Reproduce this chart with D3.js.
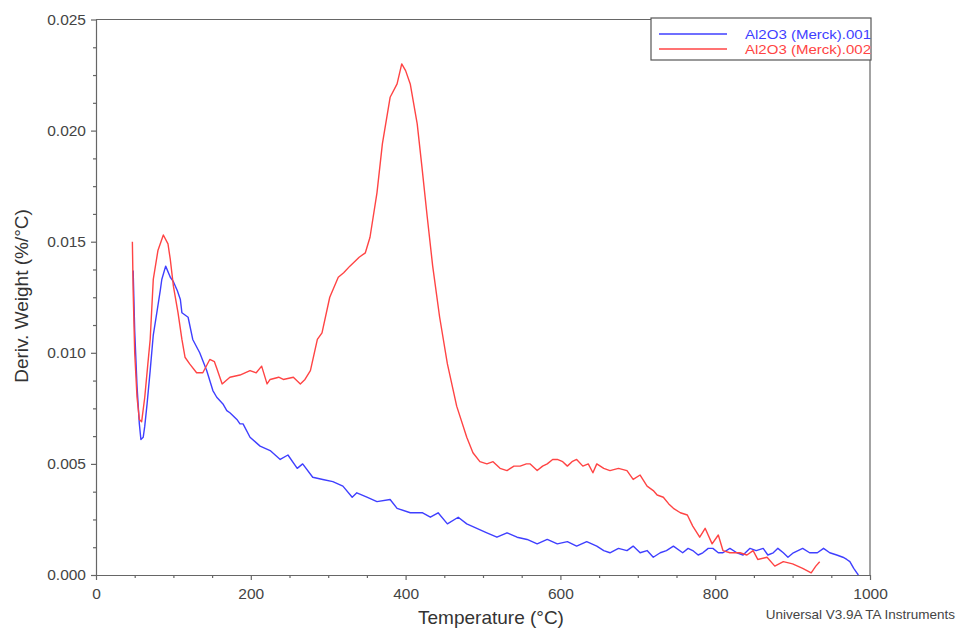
<!DOCTYPE html>
<html>
<head>
<meta charset="utf-8">
<script src="https://cdn.jsdelivr.net/npm/d3@7"></script>
<style>
  body { margin: 0; background: #fff; }
  svg { font-family: "Liberation Sans", Arial, sans-serif; }
</style>
</head>
<body>
<svg id="chart" width="959" height="629"></svg>
<script>
// series names
var seriesNames = ["Al2O3 (Merck).001", "Al2O3 (Merck).002"];
var seriesColors = ["#3f3fff", "#ff4444"];

// blue run: temperature (°C) and deriv. weight (%/°C)
var blueT = [48, 50, 53, 56, 58, 61, 63, 66, 70, 74, 79, 83, 85, 90, 96, 100, 105, 109, 111, 115, 119, 125, 134, 143, 151, 156, 164, 169, 173, 182, 186, 190, 199, 212, 225, 238, 248, 260, 267, 280, 293, 306, 319, 331, 337, 350, 363, 380, 389, 406, 422, 432, 442, 454, 468, 479, 492, 505, 518, 531, 544, 557, 570, 583, 596, 609, 621, 634, 647, 656, 664, 675, 686, 694, 703, 712, 720, 729, 737, 746, 758, 765, 771, 778, 784, 791, 797, 804, 810, 819, 828, 836, 845, 853, 862, 868, 875, 881, 888, 894, 901, 907, 913, 922, 932, 940, 948, 957, 965, 970, 974, 979, 983, 985];
var blueW = [0.0137, 0.0110, 0.0085, 0.0068, 0.0061, 0.0062, 0.0067, 0.0077, 0.0092, 0.0108, 0.0119, 0.0128, 0.0133, 0.0139, 0.0134, 0.0132, 0.0128, 0.0124, 0.0118, 0.0117, 0.0116, 0.0106, 0.0100, 0.0092, 0.0083, 0.0080, 0.0077, 0.0074, 0.0073, 0.0070, 0.0068, 0.0068, 0.0062, 0.0058, 0.0056, 0.0052, 0.0054, 0.0048, 0.0050, 0.0044, 0.0043, 0.0042, 0.0040, 0.0035, 0.0037, 0.0035, 0.0033, 0.0034, 0.0030, 0.0028, 0.0028, 0.0026, 0.0028, 0.0023, 0.0026, 0.0023, 0.0021, 0.0019, 0.0017, 0.0019, 0.0017, 0.0016, 0.0014, 0.0016, 0.0014, 0.0015, 0.0013, 0.0015, 0.0013, 0.0011, 0.0010, 0.0012, 0.0011, 0.0013, 0.0010, 0.0011, 0.0008, 0.0010, 0.0011, 0.0013, 0.0010, 0.0012, 0.0011, 0.0009, 0.0010, 0.0012, 0.0012, 0.0010, 0.0010, 0.0012, 0.0010, 0.0009, 0.0012, 0.0011, 0.0012, 0.0009, 0.0010, 0.0012, 0.0010, 0.0008, 0.0010, 0.0011, 0.0012, 0.0010, 0.0010, 0.0012, 0.0010, 0.0009, 0.0008, 0.0007, 0.0006, 0.0003, 0.0001, 0.0000];

// red run
var redT = [47, 48, 50, 53, 56, 59, 63, 67, 70, 74, 80, 87, 93, 96, 100, 106, 111, 115, 121, 130, 138, 147, 153, 156, 163, 173, 186, 199, 207, 214, 221, 225, 236, 242, 255, 264, 270, 277, 286, 292, 302, 313, 320, 328, 340, 348, 354, 363, 370, 380, 389, 395, 400, 406, 415, 421, 428, 435, 444, 454, 466, 479, 487, 496, 505, 513, 522, 531, 540, 548, 556, 561, 570, 577, 583, 590, 596, 603, 609, 615, 621, 629, 636, 642, 647, 656, 664, 675, 686, 694, 703, 712, 720, 725, 733, 740, 746, 755, 764, 771, 780, 787, 796, 804, 810, 819, 832, 841, 849, 855, 867, 877, 888, 900, 913, 924, 930, 935];
var redW = [0.0150, 0.0128, 0.0100, 0.0080, 0.0070, 0.0069, 0.0080, 0.0095, 0.0106, 0.0133, 0.0146, 0.0153, 0.0149, 0.0142, 0.0130, 0.0118, 0.0106, 0.0098, 0.0095, 0.0091, 0.0091, 0.0097, 0.0096, 0.0093, 0.0086, 0.0089, 0.0090, 0.0092, 0.0091, 0.0094, 0.0086, 0.0088, 0.0089, 0.0088, 0.0089, 0.0086, 0.0088, 0.0092, 0.0106, 0.0109, 0.0125, 0.0134, 0.0136, 0.0139, 0.0143, 0.0145, 0.0152, 0.0172, 0.0194, 0.0215, 0.0221, 0.0230, 0.0227, 0.0221, 0.0203, 0.0184, 0.0161, 0.0139, 0.0116, 0.0095, 0.0076, 0.0062, 0.0055, 0.0051, 0.0050, 0.0051, 0.0048, 0.0047, 0.0049, 0.0049, 0.0050, 0.0050, 0.0047, 0.0049, 0.0050, 0.0052, 0.0052, 0.0051, 0.0049, 0.0051, 0.0052, 0.0049, 0.0050, 0.0046, 0.0050, 0.0048, 0.0047, 0.0048, 0.0047, 0.0043, 0.0045, 0.0040, 0.0038, 0.0036, 0.0035, 0.0032, 0.0030, 0.0028, 0.0027, 0.0022, 0.0017, 0.0021, 0.0014, 0.0018, 0.0011, 0.0010, 0.0010, 0.0009, 0.0011, 0.0007, 0.0008, 0.0004, 0.0006, 0.0005, 0.0003, 0.0001, 0.0004, 0.0006];

var xTicks = [0, 200, 400, 600, 800, 1000];
var yTicks = [0, 0.005, 0.010, 0.015, 0.020, 0.025];

var svg = d3.select("#chart"),
    plotL = 96, plotR = 870, plotT = 19.5, plotB = 575; // plot box in pixels

var x = d3.scaleLinear().domain([0, 1000]).range([plotL, plotR]);
var y = d3.scaleLinear().domain([0, 0.025]).range([plotB, plotT]);

var axisCol = "#666";

// frame: top and right edges
svg.append("path")
    .attr("d", "M" + plotL + "," + plotT + "H" + plotR + "V" + plotB)
    .attr("fill", "none").attr("stroke", axisCol).attr("stroke-width", 1.2);

// x axis
var xAxis = svg.append("g").attr("transform", "translate(0," + plotB + ")")
    .call(d3.axisBottom(x).tickValues(xTicks).tickFormat(d3.format("d")).tickSize(5).tickSizeOuter(0));
svg.append("g").attr("transform", "translate(0," + plotB + ")")
    .call(d3.axisBottom(x).tickValues(d3.range(50, 1000, 50).filter(function (d) { return d % 200 != 0; }))
        .tickFormat("").tickSize(3).tickSizeOuter(0))
    .select(".domain").remove();

// y axis
var yAxis = svg.append("g").attr("transform", "translate(" + plotL + ",0)")
    .call(d3.axisLeft(y).tickValues(yTicks).tickFormat(d3.format(".3f")).tickSize(5).tickSizeOuter(0));
svg.append("g").attr("transform", "translate(" + plotL + ",0)")
    .call(d3.axisLeft(y).tickValues(d3.range(1, 20).map(function (i) { return i * 0.00125; }).filter(function (d, i) { return (i + 1) % 4 != 0; }))
        .tickFormat("").tickSize(3).tickSizeOuter(0))
    .select(".domain").remove();

svg.selectAll(".domain, .tick line").attr("stroke", axisCol).attr("stroke-width", 1.2);
xAxis.selectAll("text").attr("font-size", 15.5).attr("fill", "#444").attr("dy", "1.0em");
yAxis.selectAll("text").attr("font-size", 15.5).attr("fill", "#444").attr("x", -10);

// data lines
var line = d3.line().x(function (d) { return x(d[0]); }).y(function (d) { return y(d[1]); });
var blue = d3.zip(blueT, blueW), red = d3.zip(redT, redW);
[blue, red].forEach(function (s, i) {
    svg.append("path").datum(s).attr("d", line)
        .attr("fill", "none").attr("stroke", seriesColors[i]).attr("stroke-width", 1.4)
        .attr("stroke-linejoin", "round");
});

// legend
var lg = svg.append("g");
lg.append("rect").attr("x", 651).attr("y", 18).attr("width", 220).attr("height", 42)
    .attr("fill", "#fff").attr("stroke", "#555").attr("stroke-width", 1.2);
seriesNames.forEach(function (n, i) {
    var yy = 34 + i * 15;
    lg.append("line").attr("x1", 659).attr("x2", 727).attr("y1", yy).attr("y2", yy)
        .attr("stroke", seriesColors[i]).attr("stroke-width", 1.4);
    lg.append("text").attr("x", 745).attr("y", yy + 4.5).attr("font-size", 13)
        .attr("fill", seriesColors[i]).attr("textLength", 126).attr("lengthAdjust", "spacingAndGlyphs").text(n);
});

// titles
svg.append("text").attr("x", 491).attr("y", 624).attr("text-anchor", "middle")
    .attr("font-size", 19).attr("fill", "#333").text("Temperature (°C)");
svg.append("text").attr("transform", "translate(28,296) rotate(-90)").attr("text-anchor", "middle")
    .attr("font-size", 19).attr("fill", "#333").text("Deriv. Weight (%/°C)");
svg.append("text").attr("x", 955).attr("y", 619).attr("text-anchor", "end")
    .attr("font-size", 13.5).attr("fill", "#444").text("Universal V3.9A TA Instruments");
</script>
</body>
</html>
